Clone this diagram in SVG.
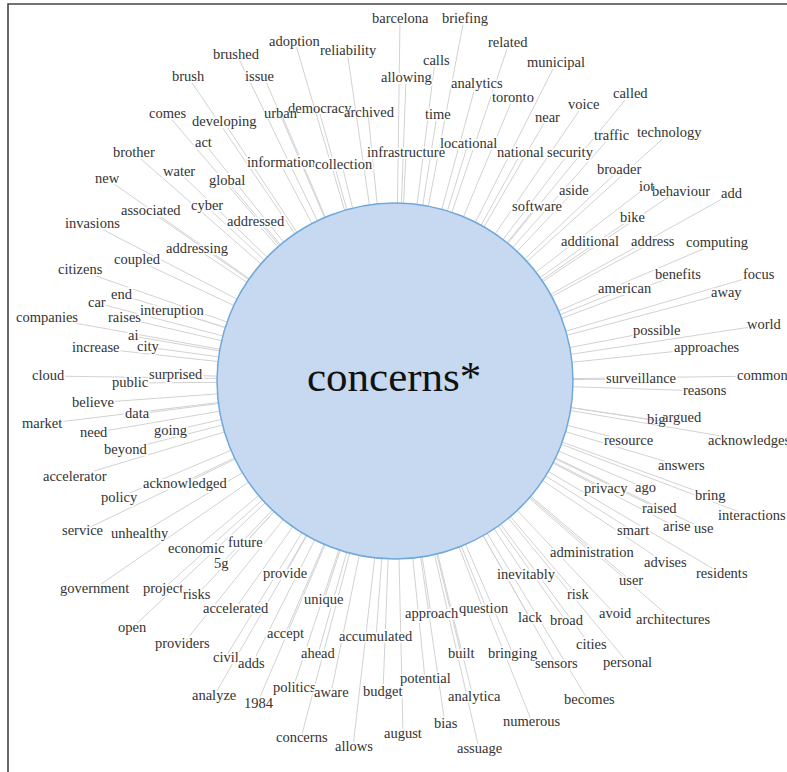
<svg xmlns="http://www.w3.org/2000/svg" width="787" height="772" viewBox="0 0 787 772">
<style>
.frame{fill:none;stroke:#444;stroke-width:1.6}
#connectors line{stroke:#d2d2d2;stroke-width:1}
.w{font-family:"Liberation Serif","Times New Roman",serif;font-size:14.5px;fill:#333;stroke:#fff;stroke-width:3.5;stroke-linejoin:round;paint-order:stroke}
.w.thin{stroke-width:0.8}
.hub{fill:#c6d9f0;stroke:#6fa8dc;stroke-width:1.5}
.hubt{font-family:"Liberation Serif","Times New Roman",serif;font-size:43px;fill:#111}
</style>
<rect width="787" height="772" fill="#fff"/>
<path class="frame" d="M8,772 V4 H787"/>
<g id="connectors">
<line x1="395" y1="381" x2="237" y2="55"/>
<line x1="395" y1="381" x2="188" y2="77"/>
<line x1="395" y1="381" x2="264" y2="77"/>
<line x1="395" y1="381" x2="167" y2="114"/>
<line x1="395" y1="381" x2="224" y2="122"/>
<line x1="395" y1="381" x2="281" y2="113"/>
<line x1="395" y1="381" x2="204" y2="143"/>
<line x1="395" y1="381" x2="134" y2="153"/>
<line x1="395" y1="381" x2="280" y2="163"/>
<line x1="395" y1="381" x2="179" y2="172"/>
<line x1="395" y1="381" x2="107" y2="179"/>
<line x1="395" y1="381" x2="227" y2="181"/>
<line x1="395" y1="381" x2="150" y2="211"/>
<line x1="395" y1="381" x2="206" y2="206"/>
<line x1="395" y1="381" x2="92" y2="224"/>
<line x1="395" y1="381" x2="256" y2="222"/>
<line x1="395" y1="381" x2="197" y2="249"/>
<line x1="395" y1="381" x2="137" y2="260"/>
<line x1="395" y1="381" x2="400" y2="19"/>
<line x1="395" y1="381" x2="464" y2="19"/>
<line x1="395" y1="381" x2="295" y2="42"/>
<line x1="395" y1="381" x2="347" y2="51"/>
<line x1="395" y1="381" x2="509" y2="43"/>
<line x1="395" y1="381" x2="435" y2="61"/>
<line x1="395" y1="381" x2="406" y2="78"/>
<line x1="395" y1="381" x2="476" y2="84"/>
<line x1="395" y1="381" x2="513" y2="98"/>
<line x1="395" y1="381" x2="320" y2="114"/>
<line x1="395" y1="381" x2="368" y2="113"/>
<line x1="395" y1="381" x2="437" y2="115"/>
<line x1="395" y1="381" x2="468" y2="144"/>
<line x1="395" y1="381" x2="406" y2="153"/>
<line x1="395" y1="381" x2="521" y2="153"/>
<line x1="395" y1="381" x2="342" y2="165"/>
<line x1="395" y1="381" x2="536" y2="207"/>
<line x1="395" y1="381" x2="556" y2="63"/>
<line x1="395" y1="381" x2="630" y2="94"/>
<line x1="395" y1="381" x2="583" y2="105"/>
<line x1="395" y1="381" x2="547" y2="118"/>
<line x1="395" y1="381" x2="611" y2="136"/>
<line x1="395" y1="381" x2="669" y2="133"/>
<line x1="395" y1="381" x2="569" y2="153"/>
<line x1="395" y1="381" x2="619" y2="170"/>
<line x1="395" y1="381" x2="574" y2="191"/>
<line x1="395" y1="381" x2="645" y2="188"/>
<line x1="395" y1="381" x2="670" y2="196"/>
<line x1="395" y1="381" x2="731" y2="194"/>
<line x1="395" y1="381" x2="632" y2="218"/>
<line x1="395" y1="381" x2="590" y2="242"/>
<line x1="395" y1="381" x2="653" y2="242"/>
<line x1="395" y1="381" x2="717" y2="243"/>
<line x1="395" y1="381" x2="79" y2="270"/>
<line x1="395" y1="381" x2="122" y2="295"/>
<line x1="395" y1="381" x2="97" y2="303"/>
<line x1="395" y1="381" x2="47" y2="318"/>
<line x1="395" y1="381" x2="124" y2="318"/>
<line x1="395" y1="381" x2="173" y2="311"/>
<line x1="395" y1="381" x2="132" y2="336"/>
<line x1="395" y1="381" x2="95" y2="348"/>
<line x1="395" y1="381" x2="147" y2="347"/>
<line x1="395" y1="381" x2="48" y2="376"/>
<line x1="395" y1="381" x2="130" y2="383"/>
<line x1="395" y1="381" x2="176" y2="375"/>
<line x1="395" y1="381" x2="92" y2="403"/>
<line x1="395" y1="381" x2="137" y2="414"/>
<line x1="395" y1="381" x2="42" y2="424"/>
<line x1="395" y1="381" x2="93" y2="433"/>
<line x1="395" y1="381" x2="170" y2="431"/>
<line x1="395" y1="381" x2="125" y2="450"/>
<line x1="395" y1="381" x2="74" y2="477"/>
<line x1="395" y1="381" x2="184" y2="484"/>
<line x1="395" y1="381" x2="118" y2="498"/>
<line x1="395" y1="381" x2="677" y2="275"/>
<line x1="395" y1="381" x2="758" y2="275"/>
<line x1="395" y1="381" x2="624" y2="289"/>
<line x1="395" y1="381" x2="726" y2="293"/>
<line x1="395" y1="381" x2="764" y2="325"/>
<line x1="395" y1="381" x2="656" y2="331"/>
<line x1="395" y1="381" x2="707" y2="348"/>
<line x1="395" y1="381" x2="640" y2="379"/>
<line x1="395" y1="381" x2="762" y2="376"/>
<line x1="395" y1="381" x2="704" y2="391"/>
<line x1="395" y1="381" x2="654" y2="420"/>
<line x1="395" y1="381" x2="666" y2="422"/>
<line x1="395" y1="381" x2="628" y2="441"/>
<line x1="395" y1="381" x2="751" y2="441"/>
<line x1="395" y1="381" x2="681" y2="466"/>
<line x1="395" y1="381" x2="606" y2="489"/>
<line x1="395" y1="381" x2="645" y2="488"/>
<line x1="395" y1="381" x2="710" y2="496"/>
<line x1="395" y1="381" x2="659" y2="509"/>
<line x1="395" y1="381" x2="750" y2="516"/>
<line x1="395" y1="381" x2="633" y2="531"/>
<line x1="395" y1="381" x2="676" y2="527"/>
<line x1="395" y1="381" x2="704" y2="529"/>
<line x1="395" y1="381" x2="592" y2="553"/>
<line x1="395" y1="381" x2="665" y2="563"/>
<line x1="395" y1="381" x2="722" y2="574"/>
<line x1="395" y1="381" x2="525" y2="575"/>
<line x1="395" y1="381" x2="631" y2="581"/>
<line x1="395" y1="381" x2="577" y2="595"/>
<line x1="395" y1="381" x2="530" y2="618"/>
<line x1="395" y1="381" x2="566" y2="621"/>
<line x1="395" y1="381" x2="615" y2="614"/>
<line x1="395" y1="381" x2="673" y2="620"/>
<line x1="395" y1="381" x2="590" y2="645"/>
<line x1="395" y1="381" x2="513" y2="654"/>
<line x1="395" y1="381" x2="556" y2="664"/>
<line x1="395" y1="381" x2="628" y2="663"/>
<line x1="395" y1="381" x2="588" y2="700"/>
<line x1="395" y1="381" x2="532" y2="722"/>
<line x1="395" y1="381" x2="285" y2="574"/>
<line x1="395" y1="381" x2="324" y2="600"/>
<line x1="395" y1="381" x2="431" y2="614"/>
<line x1="395" y1="381" x2="483" y2="609"/>
<line x1="395" y1="381" x2="285" y2="634"/>
<line x1="395" y1="381" x2="376" y2="637"/>
<line x1="395" y1="381" x2="318" y2="654"/>
<line x1="395" y1="381" x2="461" y2="654"/>
<line x1="395" y1="381" x2="425" y2="679"/>
<line x1="395" y1="381" x2="293" y2="688"/>
<line x1="395" y1="381" x2="331" y2="693"/>
<line x1="395" y1="381" x2="383" y2="692"/>
<line x1="395" y1="381" x2="473" y2="697"/>
<line x1="395" y1="381" x2="445" y2="724"/>
<line x1="395" y1="381" x2="301" y2="738"/>
<line x1="395" y1="381" x2="403" y2="734"/>
<line x1="395" y1="381" x2="353" y2="747"/>
<line x1="395" y1="381" x2="479" y2="749"/>
<line x1="395" y1="381" x2="82" y2="531"/>
<line x1="395" y1="381" x2="140" y2="534"/>
<line x1="395" y1="381" x2="195" y2="549"/>
<line x1="395" y1="381" x2="245" y2="543"/>
<line x1="395" y1="381" x2="221" y2="564"/>
<line x1="395" y1="381" x2="94" y2="589"/>
<line x1="395" y1="381" x2="163" y2="589"/>
<line x1="395" y1="381" x2="197" y2="595"/>
<line x1="395" y1="381" x2="235" y2="609"/>
<line x1="395" y1="381" x2="132" y2="628"/>
<line x1="395" y1="381" x2="183" y2="644"/>
<line x1="395" y1="381" x2="225" y2="658"/>
<line x1="395" y1="381" x2="252" y2="664"/>
<line x1="395" y1="381" x2="214" y2="696"/>
<line x1="395" y1="381" x2="257" y2="704"/>
</g>
<g id="node-concerns-center">
<circle class="hub" cx="395" cy="381" r="178"/>
<text class="hubt" x="307" y="391">concerns*</text>
</g>
<g id="n-brushed"><text class="w" x="213" y="59">brushed</text></g>
<g id="n-brush"><text class="w" x="172" y="81">brush</text></g>
<g id="n-issue"><text class="w" x="245" y="81">issue</text></g>
<g id="n-comes"><text class="w" x="149" y="118">comes</text></g>
<g id="n-developing"><text class="w" x="192" y="126">developing</text></g>
<g id="n-democracy"><text class="w thin" x="288" y="113">democracy</text></g>
<g id="n-urban"><text class="w thin" x="264" y="118">urban</text></g>
<g id="n-act"><text class="w" x="195" y="147">act</text></g>
<g id="n-brother"><text class="w" x="113" y="157">brother</text></g>
<g id="n-information"><text class="w" x="247" y="167">information</text></g>
<g id="n-water"><text class="w" x="163" y="176">water</text></g>
<g id="n-new"><text class="w" x="95" y="183">new</text></g>
<g id="n-global"><text class="w" x="209" y="185">global</text></g>
<g id="n-associated"><text class="w" x="121" y="215">associated</text></g>
<g id="n-cyber"><text class="w" x="191" y="210">cyber</text></g>
<g id="n-invasions"><text class="w" x="65" y="228">invasions</text></g>
<g id="n-addressed"><text class="w" x="227" y="226">addressed</text></g>
<g id="n-addressing"><text class="w" x="166" y="253">addressing</text></g>
<g id="n-coupled"><text class="w" x="114" y="264">coupled</text></g>
<g id="n-barcelona"><text class="w" x="372" y="23">barcelona</text></g>
<g id="n-briefing"><text class="w" x="442" y="23">briefing</text></g>
<g id="n-adoption"><text class="w" x="269" y="46">adoption</text></g>
<g id="n-reliability"><text class="w" x="320" y="55">reliability</text></g>
<g id="n-related"><text class="w" x="488" y="47">related</text></g>
<g id="n-calls"><text class="w" x="423" y="65">calls</text></g>
<g id="n-allowing"><text class="w" x="381" y="82">allowing</text></g>
<g id="n-analytics"><text class="w" x="451" y="88">analytics</text></g>
<g id="n-toronto"><text class="w" x="492" y="102">toronto</text></g>
<g id="n-archived"><text class="w thin" x="344" y="117">archived</text></g>
<g id="n-time"><text class="w" x="425" y="119">time</text></g>
<g id="n-locational"><text class="w" x="440" y="148">locational</text></g>
<g id="n-infrastructure"><text class="w" x="367" y="157">infrastructure</text></g>
<g id="n-national"><text class="w" x="497" y="157">national</text></g>
<g id="n-collection"><text class="w" x="315" y="169">collection</text></g>
<g id="n-software"><text class="w" x="512" y="211">software</text></g>
<g id="n-municipal"><text class="w" x="527" y="67">municipal</text></g>
<g id="n-called"><text class="w" x="613" y="98">called</text></g>
<g id="n-voice"><text class="w" x="568" y="109">voice</text></g>
<g id="n-near"><text class="w" x="535" y="122">near</text></g>
<g id="n-traffic"><text class="w" x="594" y="140">traffic</text></g>
<g id="n-technology"><text class="w" x="637" y="137">technology</text></g>
<g id="n-security"><text class="w" x="547" y="157">security</text></g>
<g id="n-broader"><text class="w" x="597" y="174">broader</text></g>
<g id="n-aside"><text class="w" x="559" y="195">aside</text></g>
<g id="n-behaviour"><text class="w thin" x="652" y="196">behaviour</text></g>
<g id="n-iot"><text class="w thin" x="639" y="191">iot</text></g>
<g id="n-add"><text class="w" x="721" y="198">add</text></g>
<g id="n-bike"><text class="w" x="620" y="222">bike</text></g>
<g id="n-additional"><text class="w" x="561" y="246">additional</text></g>
<g id="n-address"><text class="w" x="631" y="246">address</text></g>
<g id="n-computing"><text class="w" x="686" y="247">computing</text></g>
<g id="n-citizens"><text class="w" x="58" y="274">citizens</text></g>
<g id="n-end"><text class="w" x="111" y="299">end</text></g>
<g id="n-car"><text class="w" x="88" y="307">car</text></g>
<g id="n-companies"><text class="w" x="16" y="322">companies</text></g>
<g id="n-raises"><text class="w" x="108" y="322">raises</text></g>
<g id="n-interuption"><text class="w" x="140" y="315">interuption</text></g>
<g id="n-ai"><text class="w" x="128" y="340">ai</text></g>
<g id="n-increase"><text class="w" x="72" y="352">increase</text></g>
<g id="n-city"><text class="w" x="137" y="351">city</text></g>
<g id="n-cloud"><text class="w" x="32" y="380">cloud</text></g>
<g id="n-public"><text class="w" x="112" y="387">public</text></g>
<g id="n-surprised"><text class="w" x="149" y="379">surprised</text></g>
<g id="n-believe"><text class="w" x="72" y="407">believe</text></g>
<g id="n-data"><text class="w" x="125" y="418">data</text></g>
<g id="n-market"><text class="w" x="22" y="428">market</text></g>
<g id="n-need"><text class="w" x="80" y="437">need</text></g>
<g id="n-going"><text class="w" x="154" y="435">going</text></g>
<g id="n-beyond"><text class="w" x="104" y="454">beyond</text></g>
<g id="n-accelerator"><text class="w" x="43" y="481">accelerator</text></g>
<g id="n-acknowledged"><text class="w" x="143" y="488">acknowledged</text></g>
<g id="n-policy"><text class="w" x="101" y="502">policy</text></g>
<g id="n-benefits"><text class="w" x="655" y="279">benefits</text></g>
<g id="n-focus"><text class="w" x="743" y="279">focus</text></g>
<g id="n-american"><text class="w" x="598" y="293">american</text></g>
<g id="n-away"><text class="w" x="711" y="297">away</text></g>
<g id="n-world"><text class="w" x="747" y="329">world</text></g>
<g id="n-possible"><text class="w" x="633" y="335">possible</text></g>
<g id="n-approaches"><text class="w" x="674" y="352">approaches</text></g>
<g id="n-surveillance"><text class="w" x="606" y="383">surveillance</text></g>
<g id="n-common"><text class="w" x="737" y="380">common</text></g>
<g id="n-reasons"><text class="w" x="683" y="395">reasons</text></g>
<g id="n-argued"><text class="w thin" x="662" y="422">argued</text></g>
<g id="n-big"><text class="w thin" x="647" y="424">big</text></g>
<g id="n-resource"><text class="w" x="604" y="445">resource</text></g>
<g id="n-acknowledges"><text class="w" x="708" y="445">acknowledges</text></g>
<g id="n-answers"><text class="w" x="658" y="470">answers</text></g>
<g id="n-privacy"><text class="w" x="584" y="493">privacy</text></g>
<g id="n-ago"><text class="w" x="635" y="492">ago</text></g>
<g id="n-bring"><text class="w" x="695" y="500">bring</text></g>
<g id="n-raised"><text class="w" x="642" y="513">raised</text></g>
<g id="n-interactions"><text class="w" x="718" y="520">interactions</text></g>
<g id="n-smart"><text class="w" x="617" y="535">smart</text></g>
<g id="n-arise"><text class="w" x="663" y="531">arise</text></g>
<g id="n-use"><text class="w" x="694" y="533">use</text></g>
<g id="n-administration"><text class="w" x="550" y="557">administration</text></g>
<g id="n-advises"><text class="w" x="644" y="567">advises</text></g>
<g id="n-residents"><text class="w" x="696" y="578">residents</text></g>
<g id="n-inevitably"><text class="w" x="497" y="579">inevitably</text></g>
<g id="n-user"><text class="w" x="619" y="585">user</text></g>
<g id="n-risk"><text class="w" x="567" y="599">risk</text></g>
<g id="n-lack"><text class="w" x="518" y="622">lack</text></g>
<g id="n-broad"><text class="w" x="550" y="625">broad</text></g>
<g id="n-avoid"><text class="w" x="599" y="618">avoid</text></g>
<g id="n-architectures"><text class="w" x="636" y="624">architectures</text></g>
<g id="n-cities"><text class="w" x="576" y="649">cities</text></g>
<g id="n-bringing"><text class="w" x="488" y="658">bringing</text></g>
<g id="n-sensors"><text class="w" x="535" y="668">sensors</text></g>
<g id="n-personal"><text class="w" x="603" y="667">personal</text></g>
<g id="n-becomes"><text class="w" x="564" y="704">becomes</text></g>
<g id="n-numerous"><text class="w" x="503" y="726">numerous</text></g>
<g id="n-provide"><text class="w" x="263" y="578">provide</text></g>
<g id="n-unique"><text class="w" x="304" y="604">unique</text></g>
<g id="n-approach"><text class="w" x="405" y="618">approach</text></g>
<g id="n-question"><text class="w" x="459" y="613">question</text></g>
<g id="n-accept"><text class="w" x="267" y="638">accept</text></g>
<g id="n-accumulated"><text class="w" x="339" y="641">accumulated</text></g>
<g id="n-ahead"><text class="w" x="301" y="658">ahead</text></g>
<g id="n-built"><text class="w" x="448" y="658">built</text></g>
<g id="n-potential"><text class="w" x="400" y="683">potential</text></g>
<g id="n-politics"><text class="w" x="273" y="692">politics</text></g>
<g id="n-aware"><text class="w" x="314" y="697">aware</text></g>
<g id="n-budget"><text class="w" x="363" y="696">budget</text></g>
<g id="n-analytica"><text class="w" x="448" y="701">analytica</text></g>
<g id="n-bias"><text class="w" x="434" y="728">bias</text></g>
<g id="n-concerns"><text class="w" x="276" y="742">concerns</text></g>
<g id="n-august"><text class="w" x="384" y="738">august</text></g>
<g id="n-allows"><text class="w" x="335" y="751">allows</text></g>
<g id="n-assuage"><text class="w" x="457" y="753">assuage</text></g>
<g id="n-service"><text class="w" x="62" y="535">service</text></g>
<g id="n-unhealthy"><text class="w" x="111" y="538">unhealthy</text></g>
<g id="n-economic"><text class="w" x="168" y="553">economic</text></g>
<g id="n-future"><text class="w" x="228" y="547">future</text></g>
<g id="n-5g"><text class="w" x="214" y="568">5g</text></g>
<g id="n-government"><text class="w" x="60" y="593">government</text></g>
<g id="n-project"><text class="w" x="143" y="593">project</text></g>
<g id="n-risks"><text class="w" x="183" y="599">risks</text></g>
<g id="n-accelerated"><text class="w" x="203" y="613">accelerated</text></g>
<g id="n-open"><text class="w" x="118" y="632">open</text></g>
<g id="n-providers"><text class="w" x="155" y="648">providers</text></g>
<g id="n-civil"><text class="w" x="213" y="662">civil</text></g>
<g id="n-adds"><text class="w" x="238" y="668">adds</text></g>
<g id="n-analyze"><text class="w" x="192" y="700">analyze</text></g>
<g id="n-1984"><text class="w" x="244" y="708">1984</text></g>
</svg>
